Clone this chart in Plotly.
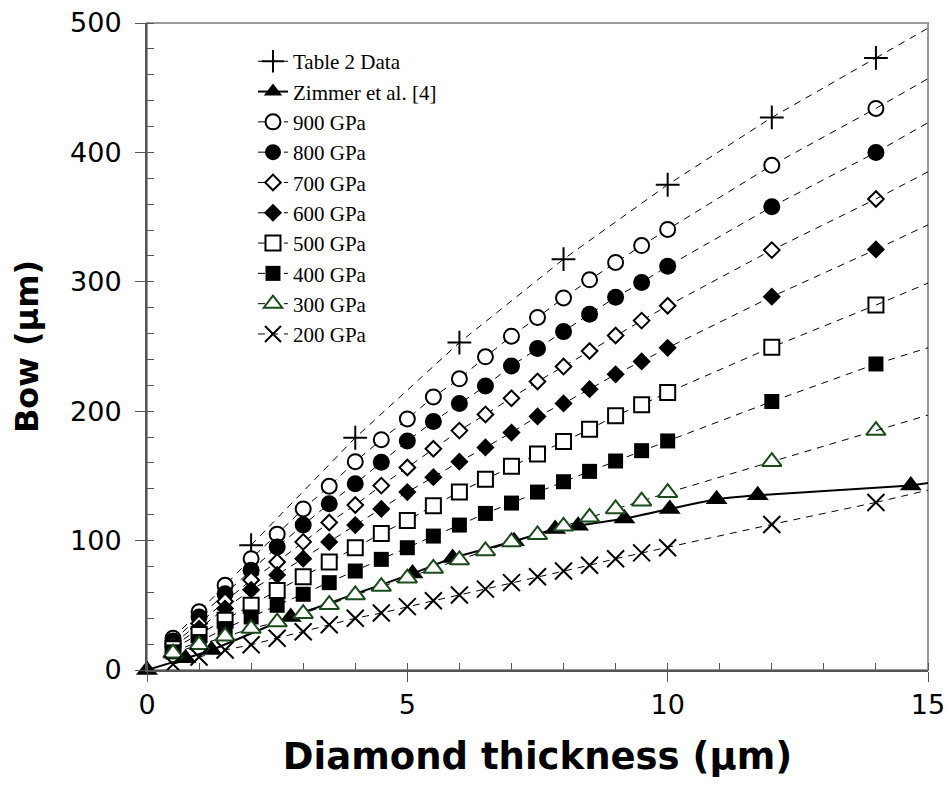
import plotly.graph_objects as go

# ---------------- data ----------------
thickness = [0.5, 1, 1.5, 2, 2.5, 3, 3.5, 4, 4.5, 5, 5.5, 6, 6.5, 7, 7.5, 8,
             8.5, 9, 9.5, 10, 12, 14]

table2_x = [2, 4, 6, 8, 10, 12, 14]
table2_y = [96.5, 179.5, 253, 317.5, 375, 427, 473]

zimmer_x = [0, 0.74, 1.24, 2.76, 5.1, 5.87, 7.05, 7.84, 8.28, 9.17, 10.04, 10.94, 11.73, 14.67]
zimmer_y = [0, 9, 15.5, 41, 74.5, 86.5, 99.5, 109, 111.5, 117, 124.5, 132, 135, 142.5]

bow_900 = [24.5, 45, 65.5, 86, 105, 124.5, 142, 161, 178, 194, 211, 225, 242, 258,
           272.5, 287.5, 301.5, 315, 328, 340.5, 390, 434]
bow_800 = [22.5, 41, 59, 77, 95, 112, 128.5, 144, 160.5, 177, 192, 206, 219.5, 235,
           248.5, 261.5, 275, 288, 299.5, 312, 358, 400]
bow_700 = [20, 36, 53, 69.5, 83.5, 99, 114, 127.5, 142.5, 156.5, 171, 185, 197.5, 210,
           223, 234.5, 246.5, 258.5, 270, 281.5, 324.5, 364]
bow_600 = [18, 32, 47.5, 62, 73.5, 86, 99, 112, 124.5, 137.5, 149, 161, 172, 183.5,
           196, 206, 217, 228.5, 238.5, 249, 288.5, 325]
bow_500 = [16.5, 27.5, 38.5, 50, 61.5, 72, 83.5, 94.5, 105.5, 115.5, 127, 137.5, 147.5,
           157.5, 167, 176.5, 186, 196.5, 205, 214.5, 249.5, 282]
bow_400 = [14, 22, 32, 41, 50, 58.5, 67.5, 76.5, 85.5, 94.5, 103.5, 112, 121, 129,
           137.5, 145.5, 153.5, 161.5, 169.5, 177, 207.5, 236.5]
bow_300 = [13, 19.5, 26, 32, 37, 43.5, 50.5, 58, 64.5, 71, 78.5, 85, 92, 99, 104.5,
           111, 118, 124.5, 130.5, 137, 161, 185]
bow_200 = [4.5, 10, 15.5, 19.5, 24.5, 29.5, 35, 40, 44, 49, 53.5, 58, 62.5, 67.5, 72,
           76.5, 81, 86, 90.5, 94.5, 112.5, 129.5]

# where the (clipped) curves meet the right edge of the plot, x = 15
edge_x = 15
edge_table2 = 496
edge_zimmer = 144.5
edge_900 = 457
edge_800 = 423
edge_700 = 385
edge_600 = 344
edge_500 = 299
edge_400 = 249
edge_300 = 197
edge_200 = 139

legend_names = ["Table 2 Data", "Zimmer et al. [4]", "900 GPa", "800 GPa", "700 GPa",
                "600 GPa", "500 GPa", "400 GPa", "300 GPa", "200 GPa"]

x_ticks = [0, 5, 10, 15]
y_ticks = [0, 100, 200, 300, 400, 500]

# ---------------- styles ----------------
BLACK = "#000000"
GREEN = "#1b4a1b"
DASH = dict(color=BLACK, width=1, dash="7px,6px")

def mk(symbol, fill, edge, size, lw=2):
    return dict(symbol=symbol, size=size, color=fill, line=dict(color=edge, width=lw))

series = [
    (legend_names[2], thickness, bow_900, edge_900, mk("circle", "white", BLACK, 15)),
    (legend_names[3], thickness, bow_800, edge_800, mk("circle", BLACK, BLACK, 17, 0)),
    (legend_names[4], thickness, bow_700, edge_700, mk("diamond", "white", BLACK, 12)),
    (legend_names[5], thickness, bow_600, edge_600, mk("diamond", BLACK, BLACK, 14, 0)),
    (legend_names[6], thickness, bow_500, edge_500, mk("square", "white", BLACK, 15)),
    (legend_names[7], thickness, bow_400, edge_400, mk("square", BLACK, BLACK, 15, 0)),
    (legend_names[8], thickness, bow_300, edge_300, mk("triangle-up", "white", GREEN, 17)),
    (legend_names[9], thickness, bow_200, edge_200, mk("x-thin", BLACK, BLACK, 17)),
]

fig = go.Figure()

# Table 2 data
fig.add_trace(go.Scatter(x=table2_x, y=table2_y, mode="lines+markers", name=legend_names[0],
                         line=DASH, marker=mk("cross-thin", BLACK, BLACK, 17),
                         legendgroup="t2"))
fig.add_trace(go.Scatter(x=[table2_x[-1], edge_x], y=[table2_y[-1], edge_table2], mode="lines",
                         line=DASH, showlegend=False, legendgroup="t2", hoverinfo="skip"))

# Zimmer et al.
fig.add_trace(go.Scatter(x=zimmer_x, y=zimmer_y, mode="lines+markers", name=legend_names[1],
                         line=dict(color=BLACK, width=2, shape="spline", smoothing=0.5),
                         marker=dict(symbol="triangle-up", size=19, color=BLACK),
                         legendgroup="zim", cliponaxis=False))
fig.add_trace(go.Scatter(x=[zimmer_x[-1], edge_x], y=[zimmer_y[-1], edge_zimmer], mode="lines",
                         line=dict(color=BLACK, width=2), showlegend=False,
                         legendgroup="zim", hoverinfo="skip"))

for name, xs, ys, edge, marker in series:
    fig.add_trace(go.Scatter(x=xs, y=ys, mode="lines+markers", name=name, line=DASH,
                             marker=marker, legendgroup=name))
    fig.add_trace(go.Scatter(x=[xs[-1], edge_x], y=[ys[-1], edge], mode="lines", line=DASH,
                             showlegend=False, legendgroup=name, hoverinfo="skip"))

TICKFONT = dict(family="DejaVu Sans, Arial, sans-serif", size=27, color=BLACK)
XTITLEFONT = dict(family="DejaVu Sans, Arial, sans-serif", size=37, color=BLACK, weight="bold")
YTITLEFONT = dict(family="DejaVu Sans, Arial, sans-serif", size=32, color=BLACK, weight="bold")

# the page body adds an 8 px offset, so the figure is sized/margined to compensate
fig.update_layout(
    width=943, height=792,
    margin=dict(l=139, r=23, t=15, b=130, autoexpand=False),
    paper_bgcolor="white", plot_bgcolor="white",
    showlegend=True,
    legend=dict(x=0.1357, y=0.972, xanchor="left", yanchor="top",
                bgcolor="rgba(0,0,0,0)",
                font=dict(family="Liberation Serif, Times New Roman, serif", size=21, color=BLACK),
                tracegroupgap=0, itemwidth=30),
    xaxis=dict(range=[0, 15], tickvals=x_ticks, ticktext=[str(v) for v in x_ticks],
               showgrid=False, zeroline=False, automargin=False, ticklabeloverflow="allow",
               showline=True, linecolor="#555555", linewidth=2, mirror=False,
               ticks="outside", ticklen=10, tickwidth=1, tickcolor="#555555",
               minor=dict(dtick=1, ticks="inside", ticklen=7, tickwidth=1, tickcolor="#555555"),
               tickfont=TICKFONT,
               title=dict(text="Diamond thickness (\u03bcm)", font=XTITLEFONT, standoff=24)),
    yaxis=dict(range=[0, 500], tickvals=y_ticks, ticktext=[str(v) for v in y_ticks],
               showgrid=False, zeroline=False, automargin=False, ticklabeloverflow="allow",
               showline=True, linecolor="#555555", linewidth=2, mirror=False,
               ticks="outside", ticklen=10, tickwidth=1, tickcolor="#555555",
               minor=dict(dtick=20, ticks="inside", ticklen=7, tickwidth=1, tickcolor="#555555"),
               tickfont=TICKFONT, ticklabelstandoff=8,
               title=dict(text="Bow (\u03bcm)", font=YTITLEFONT, standoff=26)),
    shapes=[dict(type="rect", xref="paper", yref="paper", x0=0, x1=1, y0=0, y1=1,
                 line=dict(color="#999999", width=2), layer="below")],
)

fig.write_html("out.html")
